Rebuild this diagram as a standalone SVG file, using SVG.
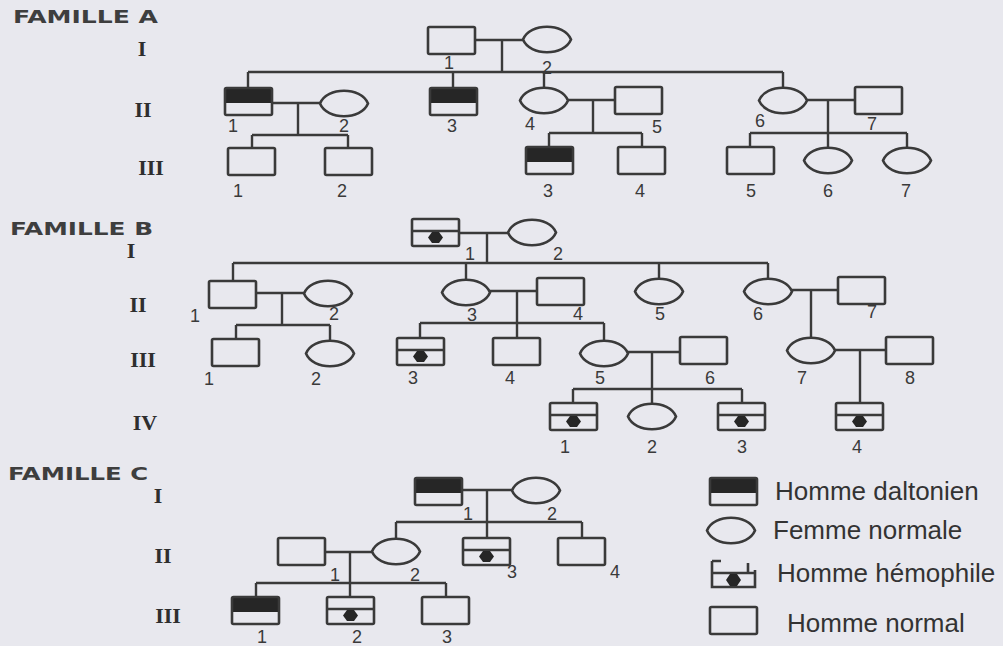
<svg xmlns="http://www.w3.org/2000/svg" xmlns:xlink="http://www.w3.org/1999/xlink" width="1003" height="646" viewBox="0 0 1003 646">
<style>
.s{fill:none;stroke:#3a3a3a;stroke-width:2.6}
.f{fill:#262626}
.ln{fill:none;stroke:#3a3a3a;stroke-width:2.4}
.n{font-family:"Liberation Sans",Arial,sans-serif;font-size:18px;fill:#3a3a3a;text-anchor:middle}
.r{font-family:"Liberation Serif","Times New Roman",serif;font-weight:bold;font-size:22px;fill:#2e2e2e;text-anchor:middle}
.t{font-family:"DejaVu Sans",Verdana,sans-serif;font-weight:bold;font-size:17px;fill:#3e3e3e}
.lg{font-family:"Liberation Sans",Arial,sans-serif;font-size:26px;fill:#333}
</style>
<defs>
<g id="m"><rect class="s" x="0" y="0" width="47" height="27" rx="1.5"/></g>
<g id="d"><rect class="f" x="0" y="0" width="47" height="15"/><rect class="s" x="0" y="0" width="47" height="27" rx="1.5"/></g>
<g id="h"><rect class="s" x="0" y="0" width="47" height="27" rx="1.5"/><line class="s" x1="0" y1="12" x2="47" y2="12"/><path class="f" d="M16,18.5 L20,13 L27,13 L31,18.5 L27,24 L20,24 Z"/></g>
<g id="w"><path class="s" d="M0,13.5 C7,-3.5 41,-3.5 48,13.5 C41,30.5 7,30.5 0,13.5 Z"/></g>
</defs>
<rect x="0" y="0" width="1003" height="646" fill="#e8e8ee"/>

<g id="titles">
<text class="t" x="13" y="23" textLength="145" lengthAdjust="spacingAndGlyphs">FAMILLE A</text>
<text class="t" x="10" y="235" textLength="143" lengthAdjust="spacingAndGlyphs">FAMILLE B</text>
<text class="t" x="8" y="480" textLength="140" lengthAdjust="spacingAndGlyphs">FAMILLE C</text>
<text class="r" x="142" y="56">I</text>
<text class="r" x="143" y="117">II</text>
<text class="r" x="151" y="175">III</text>
<text class="r" x="131" y="258">I</text>
<text class="r" x="138" y="312">II</text>
<text class="r" x="143" y="367">III</text>
<text class="r" x="145" y="430">IV</text>
<text class="r" x="158" y="503">I</text>
<text class="r" x="163" y="563">II</text>
<text class="r" x="168" y="623">III</text>
</g>

<g id="connectors">
<!-- Famille A -->
<path class="ln" d="M475,40 H523 M502,40 V72 M248,72 H783 M248,72 V88 M453,72 V88 M544,72 V87 M783,72 V87"/>
<path class="ln" d="M272,103 H320 M298,103 V135 M252,135 H348 M252,135 V148 M348,135 V148"/>
<path class="ln" d="M568,100 H615 M593,100 V133 M549,133 H642 M549,133 V147 M642,133 V147"/>
<path class="ln" d="M807,100 H855 M828,100 V147 M750,133 H907 M750,133 V147 M907,133 V147"/>
<!-- Famille B -->
<path class="ln" d="M459,233 H508 M487,233 V263 M233,263 H768 M233,263 V281 M466,263 V279 M659,263 V278 M768,263 V278"/>
<path class="ln" d="M256,293 H304 M282,293 V325 M236,325 H330 M236,325 V339 M330,325 V340"/>
<path class="ln" d="M490,291 H537 M517,291 V338 M420,323 H604 M420,323 V338 M604,323 V340"/>
<path class="ln" d="M628,352 H680 M652,352 V403 M573,389 H742 M573,389 V403 M742,389 V403"/>
<path class="ln" d="M792,290 H838 M811,290 V337 M835,350 H886 M860,350 V403"/>
<!-- Famille C -->
<path class="ln" d="M462,490 H512 M487,490 V538 M396,522 H582 M396,522 V538 M582,522 V538"/>
<path class="ln" d="M325,552 H372 M350,552 V597 M256,583 H446 M256,583 V597 M446,583 V597"/>
</g>

<g id="famA">
<g id="A-I-1"><use xlink:href="#m" x="428" y="27"/><text class="n" x="449" y="69">1</text></g>
<g id="A-I-2"><use xlink:href="#w" x="523" y="26"/><text class="n" x="547" y="74">2</text></g>
<g id="A-II-1"><use xlink:href="#d" x="225" y="88"/><text class="n" x="233" y="132">1</text></g>
<g id="A-II-2"><use xlink:href="#w" x="320" y="90"/><text class="n" x="344" y="132">2</text></g>
<g id="A-II-3"><use xlink:href="#d" x="430" y="88"/><text class="n" x="452" y="132">3</text></g>
<g id="A-II-4"><use xlink:href="#w" x="520" y="87"/><text class="n" x="530" y="130">4</text></g>
<g id="A-II-5"><use xlink:href="#m" x="615" y="87"/><text class="n" x="657" y="133">5</text></g>
<g id="A-II-6"><use xlink:href="#w" x="759" y="87"/><text class="n" x="760" y="127">6</text></g>
<g id="A-II-7"><use xlink:href="#m" x="855" y="87"/><text class="n" x="872" y="130">7</text></g>
<g id="A-III-1"><use xlink:href="#m" x="228" y="148"/><text class="n" x="238" y="197">1</text></g>
<g id="A-III-2"><use xlink:href="#m" x="325" y="148"/><text class="n" x="342" y="197">2</text></g>
<g id="A-III-3"><use xlink:href="#d" x="526" y="147"/><text class="n" x="548" y="197">3</text></g>
<g id="A-III-4"><use xlink:href="#m" x="618" y="147"/><text class="n" x="640" y="197">4</text></g>
<g id="A-III-5"><use xlink:href="#m" x="727" y="147"/><text class="n" x="751" y="197">5</text></g>
<g id="A-III-6"><use xlink:href="#w" x="804" y="147"/><text class="n" x="828" y="197">6</text></g>
<g id="A-III-7"><use xlink:href="#w" x="883" y="147"/><text class="n" x="906" y="197">7</text></g>
</g>

<g id="famB">
<g id="B-I-1"><use xlink:href="#h" x="412" y="219"/><text class="n" x="470" y="260">1</text></g>
<g id="B-I-2"><use xlink:href="#w" x="508" y="219"/><text class="n" x="558" y="260">2</text></g>
<g id="B-II-1"><use xlink:href="#m" x="209" y="281"/><text class="n" x="195" y="322">1</text></g>
<g id="B-II-2"><use xlink:href="#w" x="304" y="280"/><text class="n" x="334" y="320">2</text></g>
<g id="B-II-3"><use xlink:href="#w" x="442" y="279"/><text class="n" x="472" y="321">3</text></g>
<g id="B-II-4"><use xlink:href="#m" x="537" y="278"/><text class="n" x="578" y="320">4</text></g>
<g id="B-II-5"><use xlink:href="#w" x="635" y="278"/><text class="n" x="660" y="320">5</text></g>
<g id="B-II-6"><use xlink:href="#w" x="744" y="278"/><text class="n" x="758" y="320">6</text></g>
<g id="B-II-7"><use xlink:href="#m" x="838" y="277"/><text class="n" x="872" y="318">7</text></g>
<g id="B-III-1"><use xlink:href="#m" x="212" y="339"/><text class="n" x="209" y="385">1</text></g>
<g id="B-III-2"><use xlink:href="#w" x="306" y="340"/><text class="n" x="316" y="385">2</text></g>
<g id="B-III-3"><use xlink:href="#h" x="397" y="338"/><text class="n" x="413" y="384">3</text></g>
<g id="B-III-4"><use xlink:href="#m" x="493" y="338"/><text class="n" x="510" y="384">4</text></g>
<g id="B-III-5"><use xlink:href="#w" x="580" y="340"/><text class="n" x="600" y="384">5</text></g>
<g id="B-III-6"><use xlink:href="#m" x="680" y="337"/><text class="n" x="710" y="384">6</text></g>
<g id="B-III-7"><use xlink:href="#w" x="787" y="337"/><text class="n" x="802" y="384">7</text></g>
<g id="B-III-8"><use xlink:href="#m" x="886" y="337"/><text class="n" x="910" y="384">8</text></g>
<g id="B-IV-1"><use xlink:href="#h" x="550" y="403"/><text class="n" x="565" y="453">1</text></g>
<g id="B-IV-2"><use xlink:href="#w" x="628" y="403"/><text class="n" x="652" y="453">2</text></g>
<g id="B-IV-3"><use xlink:href="#h" x="718" y="403"/><text class="n" x="742" y="453">3</text></g>
<g id="B-IV-4"><use xlink:href="#h" x="836" y="403"/><text class="n" x="857" y="453">4</text></g>
</g>

<g id="famC">
<g id="C-I-1"><use xlink:href="#d" x="415" y="478"/><text class="n" x="468" y="520">1</text></g>
<g id="C-I-2"><use xlink:href="#w" x="512" y="477"/><text class="n" x="552" y="520">2</text></g>
<g id="C-II-1"><use xlink:href="#m" x="278" y="538"/><text class="n" x="335" y="581">1</text></g>
<g id="C-II-2"><use xlink:href="#w" x="372" y="538"/><text class="n" x="415" y="581">2</text></g>
<g id="C-II-3"><use xlink:href="#h" x="463" y="538"/><text class="n" x="512" y="578">3</text></g>
<g id="C-II-4"><use xlink:href="#m" x="558" y="538"/><text class="n" x="615" y="578">4</text></g>
<g id="C-III-1"><use xlink:href="#d" x="232" y="597"/><text class="n" x="262" y="643">1</text></g>
<g id="C-III-2"><use xlink:href="#h" x="327" y="597"/><text class="n" x="357" y="643">2</text></g>
<g id="C-III-3"><use xlink:href="#m" x="422" y="597"/><text class="n" x="447" y="643">3</text></g>
</g>

<g id="legend">
<g id="leg-daltonien"><use xlink:href="#d" x="710" y="478"/><text class="lg" x="775" y="500">Homme daltonien</text></g>
<g id="leg-femme"><use xlink:href="#w" x="707" y="517"/><text class="lg" x="773" y="539">Femme normale</text></g>
<g id="leg-hemophile"><path class="s" d="M712,561 V587 H755 V570 M712,561 H721 M712,573 H755 M748,563 V573"/><path class="f" d="M726,580 L730,574 L737,574 L741,580 L737,586 L730,586 Z"/><text class="lg" x="777" y="582">Homme hémophile</text></g>
<g id="leg-normal"><use xlink:href="#m" x="710" y="607"/><text class="lg" x="787" y="632">Homme normal</text></g>
</g>
</svg>
